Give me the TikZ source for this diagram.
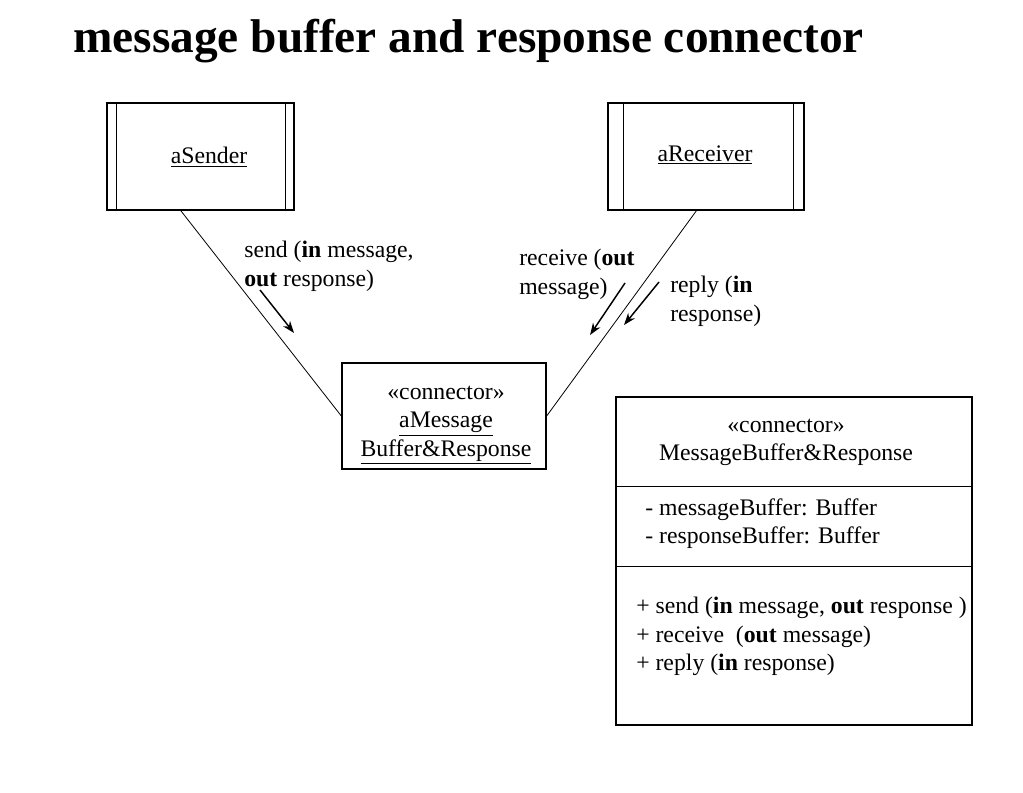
\documentclass[tikz,border=0pt]{standalone}
\usepackage{fontspec}
\setmainfont{Liberation Serif}
\usetikzlibrary{arrows.meta}
\tikzset{
  txt/.style={font=\fontsize{17.8}{21.5}\selectfont, inner sep=0pt},
  objbox/.style={draw, line width=1pt, minimum height=80.25pt, inner sep=0pt},
  conbox/.style={draw, line width=1pt, minimum width=153pt, minimum height=79.5pt, inner sep=0pt},
  clsbox/.style={draw, line width=1pt, minimum width=267pt, minimum height=246pt, inner sep=0pt},
  msg/.style={-{Stealth[length=9pt,width=6.5pt]}, line width=1.1pt},
  link/.style={line width=0.6pt}
}
\begin{document}
\begin{tikzpicture}[x=0.75pt,y=0.75pt,yscale=-1,xscale=1]
\useasboundingbox (0,0) rectangle (1023,792);

% Title
\node[anchor=base west, inner sep=0pt, font=\fontsize{35.5}{40}\selectfont\bfseries] (title) at (73,52.5) {message buffer and response connector};

%Shape: sender and receiver objects
\node[objbox, minimum width=140.25pt] (sender) at (200.5,156.5) {};
\draw (116,103) -- (116,210) (285,103) -- (285,210);
\node[txt] (sendername) at (209,157) {\underline{aSender}};

\node[objbox, minimum width=147pt] (receiver) at (706,156.5) {};
\draw (623,103) -- (623,210) (793,103) -- (793,210);
\node[txt] (receivername) at (705,155) {\underline{aReceiver}};

%Shape: connector object
\node[conbox] (conn) at (444,416) {};
\node[txt, align=center] (connname) at (446,425) {«connector»\\\underline{aMessage}\\\underline{Buffer\&Response}};

%Straight Lines
\draw[link] (sender.250) -- (conn.west);
\draw[link] (receiver.260) -- (conn.east);

%Message arrows
\draw[msg] (260,290) -- (294,333);
\draw[msg] (625,283) -- (590,335);
\draw[msg] (659,282) -- (624,325);

% Text Node
\node[txt, anchor=west, align=left] (sendlbl) at (244,266) {send (\textbf{in} message,\\\textbf{out} response)};
% Text Node
\node[txt, anchor=west, align=left] (recvlbl) at (519,274.5) {receive (\textbf{out}\\message)};
% Text Node
\node[txt, anchor=west, align=left] (replylbl) at (670,301.5) {reply (\textbf{in}\\response)};

%Shape: connector class
\node[clsbox] (cls) at (794,561) {};
\draw (616,486) -- (972,486);
\draw (616,566) -- (972,566);
\node[txt, align=center] (clsname) at (786,442.5) {«connector»\\MessageBuffer\&Response};
\node[txt, anchor=west, align=left] (clsattr) at (645,523.5) {- messageBuffer: Buffer\\- responseBuffer: Buffer};
\node[txt, anchor=west, align=left] (clsops) at (636,636.5) {+ send (\textbf{in} message, \textbf{out} response )\\+ receive~~(\textbf{out} message)\\+ reply (\textbf{in} response)};

\end{tikzpicture}
\end{document}
